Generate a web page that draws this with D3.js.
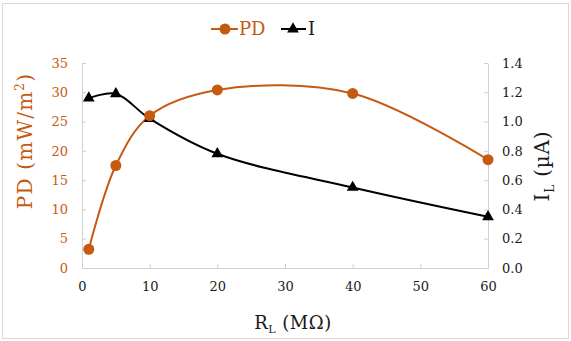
<!DOCTYPE html>
<html>
<head>
<meta charset="utf-8">
<script src="https://cdn.jsdelivr.net/npm/d3@7"></script>
<style>
  body { margin: 0; background: #fff; }
  svg { display: block; }
  text { font-family: "DejaVu Serif", "Liberation Serif", serif; }
</style>
</head>
<body>
<div id="chart"></div>
<script>
// data
var resistance = [1, 5, 10, 20, 40, 60];          // R_L (MOhm)
var powerDensity = [3.2, 17.5, 26.0, 30.4, 29.8, 18.5]; // PD (mW/m2)
var current = [1.16, 1.19, 1.02, 0.78, 0.55, 0.35];     // I_L (uA)
var xTicks = [0, 10, 20, 30, 40, 50, 60];
var pdTicks = [0, 5, 10, 15, 20, 25, 30, 35];
var iTicks = [0, 0.2, 0.4, 0.6, 0.8, 1.0, 1.2, 1.4];

var W = 571, H = 341;
var margin = { top: 63, right: 83, bottom: 73, left: 82 },
    width = W - margin.left - margin.right,
    height = H - margin.top - margin.bottom;

var orange = "#C55A11", grey = "#D0D0D0";

var svg = d3.select("#chart")
    .append("svg")
    .attr("width", W)
    .attr("height", H);

// outer border
svg.append("rect")
    .attr("x", 2.5).attr("y", 3.5)
    .attr("width", W - 5).attr("height", H - 6)
    .attr("fill", "none")
    .attr("stroke", "#D9D9D9");

var g = svg.append("g")
    .attr("transform", "translate(" + margin.left + "," + margin.top + ")");

var x = d3.scaleLinear().domain([0, 60]).range([0, width]);
var yPD = d3.scaleLinear().domain([0, 35]).range([height, 0]);
var yI = d3.scaleLinear().domain([0, 1.4]).range([height, 0]);

// axes (ticks pointing inward)
var xAxis = g.append("g")
    .attr("transform", "translate(0," + height + ")")
    .call(d3.axisBottom(x).tickValues(xTicks).tickSizeInner(-4).tickSizeOuter(0).tickPadding(14));
var leftAxis = g.append("g")
    .call(d3.axisLeft(yPD).tickValues(pdTicks).tickSizeInner(-4).tickSizeOuter(0).tickPadding(14));
var rightAxis = g.append("g")
    .attr("transform", "translate(" + width + ",0)")
    .call(d3.axisRight(yI).tickValues(iTicks).tickFormat(d3.format(".1f")).tickSizeInner(-4).tickSizeOuter(0).tickPadding(14));

[xAxis, leftAxis, rightAxis].forEach(function (a) {
    a.selectAll("path, line").attr("stroke", grey);
    a.selectAll("text")
        .style("font-family", "DejaVu Serif")
        .style("font-size", "13px")
        .attr("fill", "#1a1a1a");
});
leftAxis.selectAll("text").attr("fill", orange);

var pdData = resistance.map(function (r, i) { return [r, powerDensity[i]]; });
var iData = resistance.map(function (r, i) { return [r, current[i]]; });

// current line (smoothed)
g.append("path")
    .datum(iData)
    .attr("fill", "none")
    .attr("stroke", "#000")
    .attr("stroke-width", 2)
    .attr("d", d3.line()
        .curve(d3.curveCatmullRom.alpha(0.5))
        .x(function (d) { return x(d[0]); })
        .y(function (d) { return yI(d[1]); }));

// PD line (smoothed)
g.append("path")
    .datum(pdData)
    .attr("fill", "none")
    .attr("stroke", orange)
    .attr("stroke-width", 2)
    .attr("d", d3.line()
        .curve(d3.curveCatmullRom.alpha(0.5))
        .x(function (d) { return x(d[0]); })
        .y(function (d) { return yPD(d[1]); }));

var tri = d3.symbol().type(d3.symbolTriangle).size(60);

g.append("g").selectAll("path")
    .data(iData)
    .enter()
    .append("path")
    .attr("d", tri)
    .attr("transform", function (d) { return "translate(" + x(d[0]) + "," + yI(d[1]) + ")"; })
    .attr("fill", "#000");

g.append("g").selectAll("circle")
    .data(pdData)
    .enter()
    .append("circle")
    .attr("cx", function (d) { return x(d[0]); })
    .attr("cy", function (d) { return yPD(d[1]); })
    .attr("r", 5.5)
    .attr("fill", orange);

// axis titles
var xTitle = svg.append("text")
    .attr("x", 293).attr("y", 329)
    .attr("text-anchor", "middle")
    .style("font-size", "18px")
    .style("letter-spacing", "0.5px")
    .attr("fill", "#1a1a1a");
xTitle.append("tspan").text("R");
xTitle.append("tspan").attr("dy", 4).style("font-size", "11px").text("L");
xTitle.append("tspan").attr("dy", -4).text(" (M\u03A9)");

var pdTitle = svg.append("text")
    .attr("transform", "translate(32,141) rotate(-90)")
    .attr("text-anchor", "middle")
    .style("font-size", "20px")
    .style("letter-spacing", "1.2px")
    .attr("fill", orange);
pdTitle.append("tspan").text("PD (mW/m");
pdTitle.append("tspan").attr("dy", -8).style("font-size", "12px").text("2");
pdTitle.append("tspan").attr("dy", 8).text(")");

var iTitle = svg.append("text")
    .attr("transform", "translate(549,166) rotate(-90)")
    .attr("text-anchor", "middle")
    .style("font-size", "20px")
    .style("letter-spacing", "0.8px")
    .attr("fill", "#1a1a1a");
iTitle.append("tspan").text("I");
iTitle.append("tspan").attr("dy", 5).style("font-size", "12px").text("L");
iTitle.append("tspan").attr("dy", -5).text(" (\u00B5A)");

// legend
var leg = svg.append("g");
leg.append("line").attr("x1", 211).attr("x2", 238).attr("y1", 29).attr("y2", 29)
    .attr("stroke", orange).attr("stroke-width", 2);
leg.append("circle").attr("cx", 225).attr("cy", 29).attr("r", 5.5).attr("fill", orange);
leg.append("text").attr("x", 239).attr("y", 35).style("font-size", "18px")
    .attr("fill", orange).text("PD");
leg.append("line").attr("x1", 281).attr("x2", 306).attr("y1", 29).attr("y2", 29)
    .attr("stroke", "#000").attr("stroke-width", 2);
leg.append("path").attr("d", tri).attr("transform", "translate(293,29)").attr("fill", "#000");
leg.append("text").attr("x", 308).attr("y", 35).style("font-size", "18px")
    .attr("fill", "#1a1a1a").text("I");
</script>
</body>
</html>
